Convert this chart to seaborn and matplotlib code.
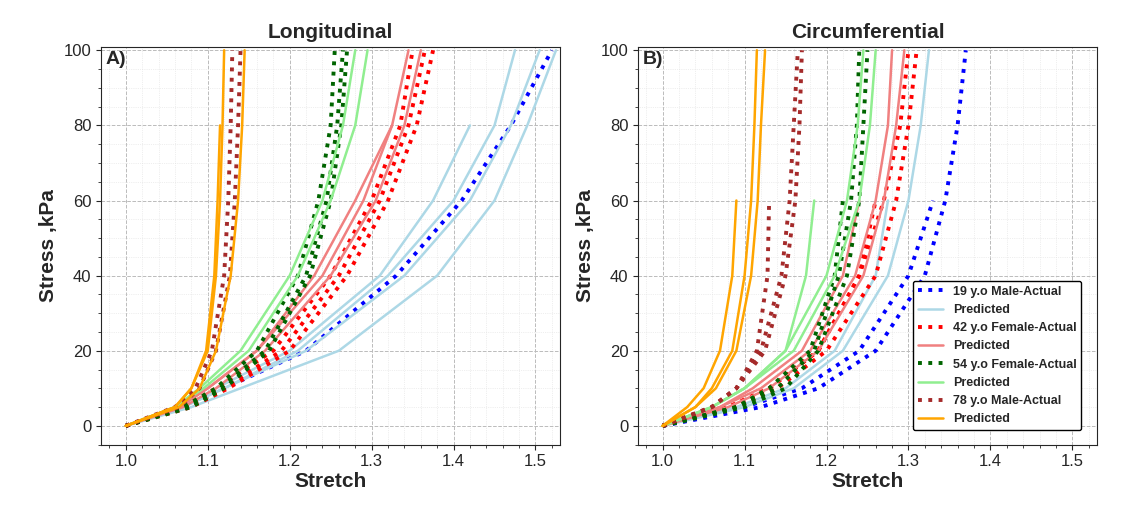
import numpy as np
import matplotlib.pyplot as plt
import seaborn as sns

nan = np.nan
# stress levels (kPa) at which the stretch of each curve was read
stress = [0, 5, 10, 20, 40, 60, 80, 100]

# Longitudinal: stretch values per curve
long_19_act = [[1, 1.07, 1.12, 1.22, 1.33, 1.41, 1.47, 1.52]]
long_19_pred = [[1, 1.08, 1.14, 1.26, 1.38, 1.45, 1.49, 1.525],
                [1, 1.07, 1.12, 1.22, 1.34, 1.42, 1.47, 1.505],
                [1, 1.07, 1.12, 1.21, 1.32, 1.40, 1.45, 1.475],
                [1, 1.07, 1.11, 1.20, 1.31, 1.375, 1.42, nan]]
long_42_act = [[1, 1.07, 1.11, 1.18, 1.25, 1.30, 1.335, 1.35],
               [1, 1.075, 1.12, 1.19, 1.26, 1.31, 1.345, 1.365],
               [1, 1.08, 1.125, 1.20, 1.27, 1.32, 1.355, 1.375]]
long_42_pred = [[1, 1.065, 1.10, 1.16, 1.23, 1.28, 1.325, nan],
                [1, 1.065, 1.10, 1.16, 1.24, 1.29, 1.325, 1.345],
                [1, 1.07, 1.11, 1.17, 1.25, 1.305, 1.34, 1.36]]
long_54_act = [[1, 1.07, 1.11, 1.16, 1.21, 1.235, 1.25, 1.255],
               [1, 1.075, 1.115, 1.17, 1.22, 1.245, 1.258, 1.265],
               [1, 1.08, 1.12, 1.175, 1.225, 1.25, 1.263, 1.27]]
long_54_pred = [[1, 1.06, 1.09, 1.14, 1.20, 1.24, 1.265, 1.28],
                [1, 1.06, 1.095, 1.15, 1.21, 1.25, 1.28, 1.295]]
long_78_act = [[1, 1.06, 1.085, 1.105, 1.12, 1.125, 1.128, 1.13],
               [1, 1.065, 1.09, 1.11, 1.127, 1.133, 1.137, 1.14]]
long_78_pred = [[1, 1.06, 1.08, 1.10, 1.11, 1.115, 1.118, 1.12],
                [1, 1.06, 1.08, 1.098, 1.108, 1.112, 1.115, nan],
                [1, 1.065, 1.09, 1.11, 1.128, 1.137, 1.142, 1.145]]

# Circumferential
circ_19_act = [[1, 1.12, 1.19, 1.26, 1.32, 1.345, 1.36, 1.37],
               [1, 1.10, 1.17, 1.24, 1.30, 1.33, nan, nan]]
circ_19_pred = [[1, 1.10, 1.16, 1.22, 1.275, 1.30, 1.315, 1.325],
                [1, 1.09, 1.15, 1.21, 1.26, 1.275, nan, nan]]
circ_42_act = [[1, 1.09, 1.14, 1.20, 1.26, 1.285, 1.30, 1.31],
               [1, 1.08, 1.13, 1.19, 1.24, 1.27, 1.29, 1.30],
               [1, 1.08, 1.13, 1.19, 1.24, 1.26, nan, nan]]
circ_42_pred = [[1, 1.07, 1.12, 1.18, 1.235, 1.26, 1.275, 1.28],
                [1, 1.08, 1.13, 1.19, 1.245, 1.27, 1.285, 1.295],
                [1, 1.07, 1.11, 1.17, 1.22, 1.24, nan, nan]]
circ_54_act = [[1, 1.10, 1.15, 1.19, 1.225, 1.24, 1.245, 1.25],
               [1, 1.09, 1.14, 1.185, 1.215, 1.23, 1.237, 1.24],
               [1, 1.09, 1.13, 1.18, 1.21, 1.22, nan, nan]]
circ_54_pred = [[1, 1.06, 1.10, 1.15, 1.20, 1.225, 1.238, 1.245],
                [1, 1.06, 1.10, 1.16, 1.21, 1.24, 1.253, 1.26],
                [1, 1.06, 1.10, 1.15, 1.175, 1.185, nan, nan]]
circ_78_act = [[1, 1.06, 1.09, 1.12, 1.145, 1.155, 1.16, 1.165],
               [1, 1.06, 1.09, 1.125, 1.15, 1.162, 1.167, 1.17],
               [1, 1.06, 1.09, 1.115, 1.128, 1.13, nan, nan]]
circ_78_pred = [[1, 1.03, 1.05, 1.07, 1.085, 1.09, nan, nan],
                [1, 1.04, 1.06, 1.085, 1.10, 1.108, 1.112, 1.115],
                [1, 1.04, 1.065, 1.09, 1.108, 1.116, 1.12, 1.125]]

labels = ['19 y.o Male-Actual', 'Predicted', '42 y.o Female-Actual', 'Predicted',
          '54 y.o Female-Actual', 'Predicted', '78 y.o Male-Actual', 'Predicted']
colors = ['blue', 'lightblue', 'red', 'lightcoral', 'darkgreen', 'lightgreen', 'brown', 'orange']

sns.set_style('ticks')
plt.rcParams['font.family'] = ['Liberation Sans', 'DejaVu Sans']

fig, axes = plt.subplots(1, 2, figsize=(11.25, 5.17), dpi=100)
panels = [
    ('Longitudinal', 'A)', [long_19_act, long_19_pred, long_42_act, long_42_pred,
                            long_54_act, long_54_pred, long_78_act, long_78_pred]),
    ('Circumferential', 'B)', [circ_19_act, circ_19_pred, circ_42_act, circ_42_pred,
                               circ_54_act, circ_54_pred, circ_78_act, circ_78_pred]),
]

for ax, (title, tag, groups) in zip(axes, panels):
    for i, curves in enumerate(groups):
        actual = i % 2 == 0
        for j, c in enumerate(curves):
            sns.lineplot(x=c, y=stress, ax=ax, sort=False, color=colors[i],
                         lw=2.8 if actual else 1.8, ls=':' if actual else '-',
                         label=labels[i] if j == 0 else None, legend=False)
    ax.set_xlim(0.97, 1.53)
    ax.set_ylim(-5, 101)
    ax.set_xticks([1.0, 1.1, 1.2, 1.3, 1.4, 1.5])
    ax.set_yticks([0, 20, 40, 60, 80, 100])
    ax.minorticks_on()
    ax.grid(which='major', ls='--', color='#bbbbbb', lw=0.7)
    ax.grid(which='minor', ls=':', color='#e0e0e0', lw=0.5)
    ax.tick_params(labelsize=12, direction='out')
    ax.set_title(title, fontsize=15, fontweight='bold')
    ax.set_xlabel('Stretch', fontsize=15, fontweight='bold', labelpad=2)
    ax.set_ylabel('Stress ,kPa', fontsize=15, fontweight='bold')
    ax.text(0.01, 0.99, tag, transform=ax.transAxes, fontsize=14,
            fontweight='bold', va='top', ha='left')

leg = axes[1].legend(loc='lower right', bbox_to_anchor=(0.98, 0.02), fontsize=9,
                     frameon=True, framealpha=1, edgecolor='black')
for t in leg.get_texts():
    t.set_fontweight('bold')

fig.subplots_adjust(left=0.09, right=0.975, top=0.91, bottom=0.14, wspace=0.17)
fig.savefig('out.png')
